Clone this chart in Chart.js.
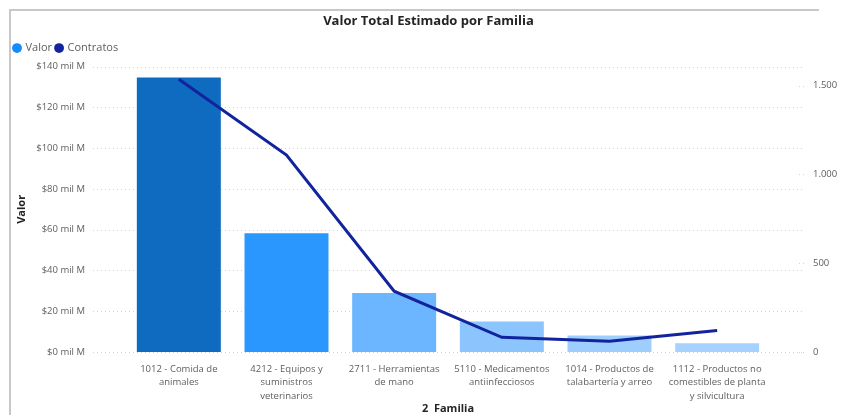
<!DOCTYPE html>
<html><head><meta charset="utf-8">
<script src="https://cdn.jsdelivr.net/npm/chart.js@4.4.1/dist/chart.umd.min.js"></script>
<style>
html,body{margin:0;padding:0;background:#fff;}
#wrap{position:relative;width:847px;height:415px;overflow:hidden;}
#frame{position:absolute;left:9px;top:9px;width:808px;height:420px;border-top:2px solid #c8c8c8;border-left:2px solid #c8c8c8;}
canvas{position:absolute;left:0;top:0;}
</style></head><body>
<div id="wrap"><div id="frame"></div><canvas id="c" width="847" height="415"></canvas></div>
<script>
// ---- data ----
const categories = [
  ["1012 - Comida de", "animales"],
  ["4212 - Equipos y", "suministros", "veterinarios"],
  ["2711 - Herramientas", "de mano"],
  ["5110 - Medicamentos", "antiinfecciosos"],
  ["1014 - Productos de", "talabartería y arreo"],
  ["1112 - Productos no", "comestibles de planta", "y silvicultura"]
];
const valor = [134.7, 58.3, 29.0, 15.0, 8.1, 4.3];        // mil M
const contratos = [1535, 1109, 342, 83, 60, 121];
const valorTicks = [0, 20, 40, 60, 80, 100, 120, 140];
const contratosTicks = [0, 500, 1000, 1500];
const contratosMax = 1606;
const seriesNames = ["Valor", "Contratos"];

// ---- styles ----
const barColors = ['#0F6BC0', '#2A97FE', '#6BB6FE', '#8CC5FE', '#9DCEFE', '#A5D2FE'];
const legendColors = ['#118DFF', '#12239E'];
const FONT = "'Open Sans', 'Segoe UI', sans-serif";
Chart.defaults.font.family = FONT;

const fmtThousands = v => String(v).replace(/\B(?=(\d{3})+(?!\d))/g, '.');

const extGrid = {
  id: 'extGrid',
  beforeDatasetsDraw(chart) {
    const {ctx, chartArea} = chart;
    const y = chart.scales.y, y1 = chart.scales.y1;
    ctx.save();
    ctx.strokeStyle = '#d2d2d2';
    ctx.lineWidth = 1;
    ctx.setLineDash([1, 3]);
    y.ticks.forEach(t => {
      const py = Math.round(y.getPixelForValue(t.value)) + 0.5;
      ctx.beginPath();
      ctx.moveTo(chartArea.left - 32, py);
      ctx.lineTo(chartArea.right + 33, py);
      ctx.stroke();
    });
    y1.ticks.forEach(t => {
      const py = Math.round(y1.getPixelForValue(t.value)) + 0.5;
      ctx.beginPath();
      ctx.moveTo(chartArea.right + 28, py);
      ctx.lineTo(chartArea.right + 36, py);
      ctx.stroke();
    });
    ctx.restore();
  }
};

new Chart(document.getElementById('c'), {
  data: {
    labels: categories,
    datasets: [
      {
        type: 'bar',
        label: seriesNames[0],
        data: valor,
        backgroundColor: barColors,
        yAxisID: 'y',
        order: 1,
        barPercentage: 0.78,
        categoryPercentage: 1.0
      },
      {
        type: 'line',
        label: seriesNames[1],
        data: contratos,
        borderColor: '#12239E',
        backgroundColor: '#12239E',
        borderWidth: 3,
        pointRadius: 0,
        tension: 0,
        yAxisID: 'y1',
        order: 0
      }
    ]
  },
  options: {
    responsive: false,
    animation: false,
    layout: { padding: { left: 10, top: 0, right: 0, bottom: 0 } },
    plugins: {
      title: {
        display: true,
        text: 'Valor Total Estimado por Familia',
        color: '#252423',
        font: { size: 13, weight: 'bold', family: FONT },
        padding: { top: 13, bottom: 10 }
      },
      subtitle: {
        display: true,
        text: '',
        weight: 500,
        font: { size: 1 },
        padding: { top: 0, bottom: 1.9 }
      },
      legend: {
        display: true,
        position: 'top',
        align: 'start',
        labels: {
          usePointStyle: true,
          boxWidth: 6,
          boxHeight: 7,
          padding: 4,
          color: '#605E5C',
          font: { size: 11, family: FONT },
          sort: (a, b) => a.datasetIndex - b.datasetIndex,
          generateLabels(chart) {
            const items = Chart.defaults.plugins.legend.labels.generateLabels(chart);
            items.forEach(it => {
              it.fillStyle = legendColors[it.datasetIndex];
              it.strokeStyle = legendColors[it.datasetIndex];
              it.lineWidth = 0;
              it.pointStyle = 'circle';
            });
            return items;
          }
        }
      },
      tooltip: { enabled: false }
    },
    scales: {
      x: {
        type: 'category',
        offset: true,
        grid: { display: false, drawTicks: false },
        border: { display: false },
        ticks: {
          color: '#605E5C',
          font: { size: 9.5, lineHeight: 1.45 },
          padding: 10,
          maxRotation: 0,
          minRotation: 0,
          autoSkip: false
        },
        title: {
          display: true,
          text: '2  Familia',
          color: '#252423',
          font: { size: 11, weight: 'bold' },
          padding: { top: 0, bottom: 0 }
        },
        afterFit(s) { s.height = 63; }
      },
      y: {
        type: 'linear',
        position: 'left',
        min: 0,
        max: 140,
        grid: { display: false, drawTicks: false },
        border: { display: false },
        afterBuildTicks(axis) { axis.ticks = valorTicks.map(v => ({ value: v })); },
        ticks: {
          color: '#605E5C',
          font: { size: 9.5 },
          padding: 40,
          callback: v => '$' + v + ' mil M'
        },
        title: {
          display: true,
          text: 'Valor',
          color: '#252423',
          font: { size: 11, weight: 'bold' },
          padding: { top: 5.4, bottom: 0 }
        },
        afterFit(s) { s.width = 115; }
      },
      y1: {
        type: 'linear',
        position: 'right',
        min: 0,
        max: contratosMax,
        grid: { display: false, drawTicks: false },
        border: { display: false },
        afterBuildTicks(axis) { axis.ticks = contratosTicks.map(v => ({ value: v })); },
        ticks: {
          color: '#605E5C',
          font: { size: 9.5 },
          padding: 42,
          callback: v => fmtThousands(v)
        },
        afterFit(s) { s.width = 76; }
      }
    }
  },
  plugins: [extGrid]
});
</script>
</body></html>
